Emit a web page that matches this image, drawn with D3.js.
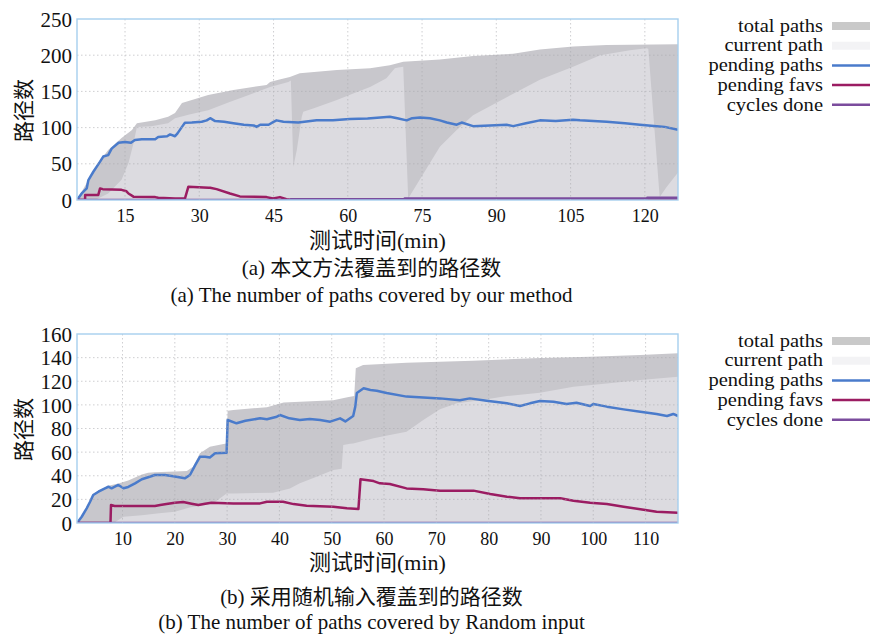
<!DOCTYPE html>
<html>
<head>
<meta charset="utf-8">
<script src="https://cdn.jsdelivr.net/npm/d3@7"></script>
<style>
  html, body { margin: 0; padding: 0; background: #fff; }
  svg text { font-family: "Liberation Serif", "Noto Sans CJK SC", serif; fill: #111; }
</style>
</head>
<body>
<svg id="fig" width="870" height="637"></svg>
<script>
// ---- (a) our method: [minute, paths] ----
const totalPathsA = [[5.3,0],[7.6,27.6],[9.6,51],[11.6,69],[14.3,85.6],[16.4,96.6],[17.4,106],[21.1,110],[23.7,115],[25.1,120],[26.5,134],[28.5,138],[31.8,145],[36.9,152],[43.6,159],[44.3,163],[46,166],[48.3,170],[50.3,175],[57.8,179.5],[64.5,182],[68.5,186],[71.2,191],[78.6,194],[85.3,199],[93.4,202],[98.8,208],[105.5,212],[112.3,214],[126.7,215]];
const currentPathA = [[5.3,0],[8.9,0],[11.6,9],[14.3,28],[15.7,51],[16.7,78],[17.4,101],[20.3,102],[23.7,106],[25.1,113],[28,118],[31.8,124],[36,135],[40,145],[44.3,156],[48,163],[48.5,165],[49,46],[49.7,69],[50.7,115],[51,122],[53,126.5],[57.8,138],[61.1,147],[64.5,156],[67.8,168],[69.5,182],[70.2,183],[71.2,184],[72.2,2],[78.6,73.6],[82,96.7],[85.3,117],[92.1,142],[98.8,166],[105.5,184],[111,200],[117,207],[120.3,209.5],[120.7,209],[123,4],[124.4,18],[126.7,38]];
const pendingPathsA = [[5.3,0],[6.25,9],[7.26,16],[7.6,27.6],[8.6,39],[9.96,53],[10.6,60],[11.6,62],[12.3,71],[13.7,79],[15,80],[16.2,79],[17,83],[18.4,84],[21.1,84],[21.7,87],[23.5,88],[24.1,90.6],[25.1,88],[25.6,92],[26.5,101],[27.1,106.7],[28.5,107],[30.5,108],[31.5,110],[32.2,113],[33.2,109],[35,108],[36.9,106],[39,104],[41,103],[41.6,101],[42.3,104],[44,104],[45,108],[45.6,110],[47,108],[50,107],[53.7,110],[57,110],[60.4,112],[64,112.5],[68.5,115],[70,113],[71.9,110],[73,113],[74.6,114],[76.6,113],[78.6,110],[80,107],[82,104],[83,107],[85.3,102],[92.1,104],[93.4,102],[96,106],[98.8,110],[102,109],[105.5,111],[106.9,110],[112.3,108],[116,106],[119,104],[122.4,102],[124,101],[126.7,97]];
const pendingFavsA = [[5.3,0],[6.93,0],[6.95,7],[9.6,7],[9.96,16],[10.5,15],[14.3,14],[15.3,12],[15.7,9],[16.7,4.6],[21.1,4],[21.7,3],[25.1,2],[27.1,2],[27.8,18.4],[31.9,17],[32.2,17],[33.5,15],[36.2,9],[38.2,5],[43.6,4],[44.9,2],[46.3,4],[47.6,1],[48.3,0.5],[49,0],[126.7,0]];
const cyclesDoneA = [[5.3,0],[48.5,0],[48.5,1],[71.5,1],[71.5,2],[120.5,2],[120.5,3],[126.7,3]];

// ---- (b) random input: [minute, paths] ----
const totalPathsB = [[1.3,0],[2.2,6],[3.15,13],[4.4,24.5],[5.4,27.5],[7.3,31.5],[9.2,33.5],[11.1,36],[12.4,38.5],[13.7,41],[14.9,42.6],[16.2,43],[20,43.5],[22.3,44],[23.5,47.7],[24.8,59],[26.7,64.6],[29.3,66.9],[29.9,67.4],[30.1,95],[31.2,95.7],[37.6,98],[40.8,102],[50.3,104],[53,106.4],[54.3,107.5],[54.6,131],[56,133.7],[64.3,135.7],[77,137.4],[88.5,139.4],[99.4,140.8],[109,142.2],[116.2,143.6]];
const currentPathB = [[1.3,0],[8.3,0],[9.2,2.5],[10.2,5.3],[13.7,6.5],[17,8.2],[20,9.6],[23,13.3],[25.8,15.2],[27.4,17],[29.9,25],[31.2,25],[38.8,25.7],[42,29.3],[43.9,33.6],[47.1,39.2],[50.3,44.8],[51.9,46],[52.2,66],[53.5,67],[54.1,67.4],[58,71.7],[61.1,74.5],[64.3,77.3],[67.5,87.2],[70.7,96.2],[73.9,101.3],[78.4,104],[83.5,107.5],[89.8,110.3],[96.2,115.4],[102.6,118.2],[109,121],[116.2,123.9]];
const pendingPathsB = [[1.3,0],[2.2,5.3],[3.15,12.4],[3.8,18],[4.4,23.7],[5.4,26.5],[6.65,29.4],[7.3,30.7],[7.9,29.4],[9.2,32.2],[10.2,29.4],[11.1,30.5],[12.4,33.6],[13.7,37],[14.9,38.7],[16.2,40.6],[18.1,40.6],[20,39.4],[21.9,37.8],[22.9,40.6],[23.9,49],[24.8,56],[25.8,56],[26.7,55.5],[27.7,59],[29.9,59.5],[30.1,87.2],[31.8,84.4],[33.5,86.5],[36.3,88.6],[37.6,87.8],[39.5,90],[40.1,91.4],[41.9,88.6],[43.9,87.2],[45.8,88],[47.8,87.2],[49.7,85.8],[51.6,88.6],[52.6,86],[54.1,90.6],[54.5,98.5],[54.8,110],[56.1,114],[57.4,112.6],[58.6,112],[60.5,110],[64.3,107],[70.7,105.5],[74.5,104],[76.4,105.5],[79.6,103.5],[83.5,101.3],[86,99],[87.9,101.3],[89.8,103.3],[92.4,102.7],[94.9,100.7],[96.8,101.8],[99.4,99],[100,100.7],[102.6,98.5],[105.8,96.2],[109,94.2],[112.1,92.3],[114.1,90.6],[115.3,92.3],[116.2,90.6]];
const pendingFavsB = [[1.3,0],[7.7,0],[7.8,15.2],[8.5,14.4],[16.2,14.4],[17.2,15.2],[18.4,16],[20,17.2],[21.6,17.8],[23.2,16.3],[24.5,15.2],[25.8,16.3],[27,17.2],[31.2,16.6],[36.3,16.6],[37.6,18],[40.7,18],[42.7,16],[45.2,14.7],[50.3,13.8],[52.9,12.4],[55.1,11.8],[55.5,37],[58,35.5],[59.2,33.6],[61.1,33],[64.3,29.3],[67.5,28.5],[70.7,27.4],[77.1,27.4],[80.3,24.5],[83.5,22.3],[86,20.9],[93.7,20.9],[96.2,18.9],[99.4,17.2],[102.6,16.1],[105.8,13.8],[109,11.6],[112.1,9.6],[116.2,8.7]];
const cyclesDoneB = [[1.3,0],[116.2,0]];

// ---- axes and labels ----
const xTicksA = [15, 30, 45, 60, 75, 90, 105, 120];
const yTicksA = [0, 50, 100, 150, 200, 250];
const xTicksB = [10, 20, 30, 40, 50, 60, 70, 80, 90, 100, 110];
const yTicksB = [0, 20, 40, 60, 80, 100, 120, 140, 160];
const legendNames = ["total paths", "current path", "pending paths", "pending favs", "cycles done"];
const yTitle = "路径数";
const xTitle = "测试时间(min)";
const captionsA = ["(a) 本文方法覆盖到的路径数", "(a) The number of paths covered by our method"];
const captionsB = ["(b) 采用随机输入覆盖到的路径数", "(b) The number of paths covered by Random input"];

const colors = {
  total: "#c8c7cc", current: "#dcdbe0",
  totalKey: "#c9c9c9", currentKey: "#f3f3f5",
  pending: "#4a7bcb", favs: "#9b1c62", cycles: "#7b4c9d",
  frame: "#a6cfee", grid: "#a9a9ae"
};

const svg = d3.select("#fig");

function panel(cfg) {
  const { top, bottom, left, right, xDomain, yDomain, xTicks, yTicks, series, captions, legendTop, id } = cfg;
  const x = d3.scaleLinear().domain(xDomain).range([left, right]);
  const y = d3.scaleLinear().domain(yDomain).range([bottom, top]);
  const g = svg.append("g");

  g.append("clipPath").attr("id", id).append("rect")
    .attr("x", left).attr("y", top).attr("width", right - left).attr("height", bottom - top);
  const plot = g.append("g").attr("clip-path", `url(#${id})`);

  const area = d3.area().x(d => x(d[0])).y0(y(0)).y1(d => y(d[1]));
  const line = d3.line().x(d => x(d[0])).y(d => y(d[1]));

  plot.append("path").datum(series.total).attr("d", area).attr("fill", colors.total);
  plot.append("path").datum(series.current).attr("d", area).attr("fill", colors.current);

  // dotted grid
  const grid = g.append("g").attr("stroke", colors.grid).attr("stroke-width", 0.8)
    .attr("stroke-dasharray", "1.5,2.5").attr("opacity", 0.7);
  grid.selectAll("line.gx").data(xTicks).join("line")
    .attr("x1", d => x(d)).attr("x2", d => x(d)).attr("y1", top).attr("y2", bottom);
  grid.selectAll("line.gy").data(yTicks.slice(1, -1)).join("line")
    .attr("x1", left).attr("x2", right).attr("y1", d => y(d)).attr("y2", d => y(d));

  const lines = [[series.pending, colors.pending], [series.favs, colors.favs], [series.cycles, colors.cycles]];
  lines.forEach(([data, c]) => {
    plot.append("path").datum(data).attr("d", line).attr("fill", "none")
      .attr("stroke", c).attr("stroke-width", 2.5).attr("stroke-linejoin", "round");
  });

  g.append("rect").attr("x", left).attr("y", top).attr("width", right - left).attr("height", bottom - top)
    .attr("fill", "none").attr("stroke", colors.frame).attr("stroke-width", 1.4);

  // axes
  const yAxis = d3.axisLeft(y).tickValues(yTicks).tickSize(0).tickPadding(5);
  const ya = g.append("g").attr("transform", `translate(${left},0)`).call(yAxis);
  ya.select(".domain").remove();
  ya.selectAll("text").attr("font-size", 21).attr("dy", "0.34em")
    .style("font-family", "'Liberation Serif', serif");

  const xAxis = d3.axisBottom(x).tickValues(xTicks).tickSize(0).tickPadding(6);
  const xa = g.append("g").attr("transform", `translate(0,${bottom})`).call(xAxis);
  xa.select(".domain").remove();
  xa.selectAll("text").attr("font-size", 18).attr("dy", "0.9em")
    .style("font-family", "'Liberation Serif', serif");

  const cx = (left + right) / 2;
  g.append("text").attr("x", cx).attr("y", bottom + cfg.titleY).attr("text-anchor", "middle")
    .attr("font-size", 22).text(xTitle);
  g.append("text").attr("transform", `translate(31,${(top + bottom) / 2 + 1}) rotate(-90)`)
    .attr("text-anchor", "middle").attr("font-size", 21).text(yTitle);
  g.append("text").attr("x", cx - 6).attr("y", bottom + cfg.capY[0]).attr("text-anchor", "middle")
    .attr("font-size", 21).text(captions[0]);
  g.append("text").attr("x", cx - 6).attr("y", bottom + cfg.capY[1]).attr("text-anchor", "middle")
    .attr("font-size", 21).text(captions[1]);

  // key: labels set in a slightly widened face, right-aligned against the swatches
  const keyColors = [colors.totalKey, colors.currentKey, colors.pending, colors.favs, colors.cycles];
  const lg = g.append("g");
  legendNames.forEach((name, i) => {
    const ly = legendTop + i * 19.7;
    lg.append("text").attr("transform", `translate(823,${ly}) scale(1.14,1)`)
      .attr("dy", "0.32em").attr("text-anchor", "end")
      .attr("font-size", 18).text(name);
    if (i < 2) {
      lg.append("rect").attr("x", 832).attr("y", ly - 4).attr("width", 38).attr("height", 8)
        .attr("fill", keyColors[i]);
    } else {
      lg.append("line").attr("x1", 832).attr("x2", 870).attr("y1", ly).attr("y2", ly)
        .attr("stroke", keyColors[i]).attr("stroke-width", 2.5);
    }
  });
}

panel({
  id: "clipA", top: 19, bottom: 200, left: 77, right: 678,
  xDomain: [5.3, 126.7], yDomain: [0, 250], xTicks: xTicksA, yTicks: yTicksA,
  series: { total: totalPathsA, current: currentPathA, pending: pendingPathsA, favs: pendingFavsA, cycles: cyclesDoneA },
  captions: captionsA, titleY: 48, capY: [75, 102], legendTop: 26
});

panel({
  id: "clipB", top: 334, bottom: 523, left: 77, right: 678,
  xDomain: [1.3, 116.2], yDomain: [0, 160], xTicks: xTicksB, yTicks: yTicksB,
  series: { total: totalPathsB, current: currentPathB, pending: pendingPathsB, favs: pendingFavsB, cycles: cyclesDoneB },
  captions: captionsB, titleY: 47, capY: [81, 106], legendTop: 341
});
</script>
</body>
</html>
